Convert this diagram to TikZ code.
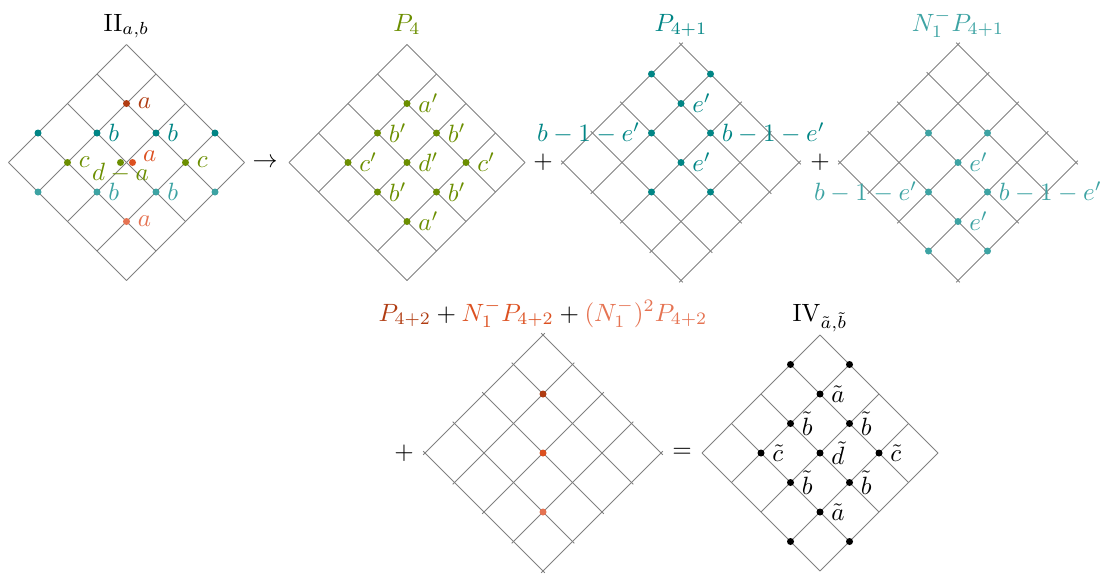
\documentclass[tikz,border=0pt]{standalone}
\usepackage{amsmath}
\definecolor{cbrown}{HTML}{B03C12}
\definecolor{cred}{HTML}{DC5020}
\definecolor{csalmon}{HTML}{E57352}
\definecolor{cteal}{HTML}{008585}
\definecolor{clteal}{HTML}{3DA3A3}
\definecolor{colive}{HTML}{6B8E00}
\def\hh{29.5}
\newcommand\drawlattice[1]{%
  \foreach \t in {0,...,4} {
    \draw[gridline,#1] ({(\t-4)*\hh},{-\t*\hh}) -- ({\t*\hh},{(4-\t)*\hh});
    \draw[gridline,#1] ({(\t-4)*\hh},{\t*\hh}) -- ({\t*\hh},{(\t-4)*\hh});
  }}
% dot only
\newcommand\pnt[4]{\node[dot, fill=#4] (#1) at ({#2*\hh},{#3*\hh}) {};}
% dot with label on the right
\newcommand\pntr[5]{\node[dot, fill=#4] (#1) at ({#2*\hh},{#3*\hh}) {};
  \node[right=1pt, text=#4] (#1l) at (#1.center) {#5};}
% dot with label on the left
\newcommand\pntl[5]{\node[dot, fill=#4] (#1) at ({#2*\hh},{#3*\hh}) {};
  \node[left=1pt, text=#4] (#1l) at (#1.center) {#5};}
\begin{document}
\begin{tikzpicture}[x=0.4pt,y=-0.4pt,
  gridline/.style={draw=black!50, line width=0.4pt},
  overshoot/.style={shorten <=-1pt, shorten >=-1pt},
  dot/.style={circle, inner sep=0pt, minimum size=2.8pt},
  ttl/.style={anchor=base, inner sep=0pt},
  op/.style={inner sep=0pt}]
\useasboundingbox (0,0) rectangle (1105,574);

% ---------- titles ----------
\node[ttl] (t1) at (126.5,31) {$\mathrm{II}_{a,b}$};
\node[ttl, text=colive] (t2) at (407,31) {$P_4$};
\node[ttl, text=cteal] (t3) at (681,31) {$P_{4+1}$};
\node[ttl, text=clteal] (t4) at (958,31) {$N_1^-P_{4+1}$};
\node[ttl] (t5) at (543,321) {$\textcolor{cbrown}{P_{4+2}}+\textcolor{cred}{N_1^-P_{4+2}}+\textcolor{csalmon}{(N_1^-)^2P_{4+2}}$};
\node[ttl] (t6) at (820,321) {$\mathrm{IV}_{\tilde{a},\tilde{b}}$};

% ---------- operators ----------
\node[op] (o1) at (265,162.5) {$\rightarrow$};
\node[op] (o2) at (543,162.5) {$+$};
\node[op] (o3) at (820,162.5) {$+$};
\node[op] (o4) at (404,453) {$+$};
\node[op] (o5) at (682,453) {$=$};

% ---------- II_{a,b} ----------
\begin{scope}[shift={(126.5,162.5)}]
  \drawlattice{}
  \pntr{Aa1}{0}{-2}{cbrown}{$a$}
  \pnt{Ab1}{-3}{-1}{cteal}
  \pntr{Ab2}{-1}{-1}{cteal}{$b$}
  \pntr{Ab3}{1}{-1}{cteal}{$b$}
  \pnt{Ab4}{3}{-1}{cteal}
  \pntr{Ac1}{-2}{0}{colive}{$c$}
  \pntr{Ac2}{2}{0}{colive}{$c$}
  \node[dot, fill=colive] (Ad) at (-6,0) {};
  \node[dot, fill=cred] (Ae) at (6,0) {};
  \node[anchor=west, inner sep=0pt, text=cred] (Ael) at (16,-6.5) {$a$};
  \node[anchor=base, inner sep=0pt, text=colive] (Adl) at (-6,17.5) {$d-a$};
  \pnt{Af1}{-3}{1}{clteal}
  \pntr{Af2}{-1}{1}{clteal}{$b$}
  \pntr{Af3}{1}{1}{clteal}{$b$}
  \pnt{Af4}{3}{1}{clteal}
  \pntr{Ag}{0}{2}{csalmon}{$a$}
\end{scope}

% ---------- P_4 ----------
\begin{scope}[shift={(407,162.5)}]
  \drawlattice{}
  \pntr{Ba1}{0}{-2}{colive}{$a'$}
  \pntr{Bb1}{-1}{-1}{colive}{$b'$}
  \pntr{Bb2}{1}{-1}{colive}{$b'$}
  \pntr{Bc1}{-2}{0}{colive}{$c'$}
  \pntr{Bd}{0}{0}{colive}{$d'$}
  \pntr{Bc2}{2}{0}{colive}{$c'$}
  \pntr{Bb3}{-1}{1}{colive}{$b'$}
  \pntr{Bb4}{1}{1}{colive}{$b'$}
  \pntr{Ba2}{0}{2}{colive}{$a'$}
\end{scope}

% ---------- P_{4+1} ----------
\begin{scope}[shift={(681,162.5)}]
  \drawlattice{overshoot}
  \pnt{Cp1}{-1}{-3}{cteal}
  \pnt{Cp2}{1}{-3}{cteal}
  \pntr{Ce1}{0}{-2}{cteal}{$e'$}
  \pntl{Cq1}{-1}{-1}{cteal}{$b-1-e'$}
  \pntr{Cq2}{1}{-1}{cteal}{$b-1-e'$}
  \pntr{Ce2}{0}{0}{cteal}{$e'$}
  \pnt{Cr1}{-1}{1}{cteal}
  \pnt{Cr2}{1}{1}{cteal}
\end{scope}

% ---------- N_1^- P_{4+1} ----------
\begin{scope}[shift={(958,162.5)}]
  \drawlattice{overshoot}
  \pnt{Dp1}{-1}{-1}{clteal}
  \pnt{Dp2}{1}{-1}{clteal}
  \pntr{De1}{0}{0}{clteal}{$e'$}
  \pntl{Dq1}{-1}{1}{clteal}{$b-1-e'$}
  \pntr{Dq2}{1}{1}{clteal}{$b-1-e'$}
  \pntr{De2}{0}{2}{clteal}{$e'$}
  \pnt{Dr1}{-1}{3}{clteal}
  \pnt{Dr2}{1}{3}{clteal}
\end{scope}

% ---------- P_{4+2} + ... ----------
\begin{scope}[shift={(543,453)}]
  \drawlattice{overshoot}
  \pnt{E1}{0}{-2}{cbrown}
  \pnt{E2}{0}{0}{cred}
  \pnt{E3}{0}{2}{csalmon}
\end{scope}

% ---------- IV ----------
\begin{scope}[shift={(820,453)}]
  \drawlattice{}
  \pnt{Fp1}{-1}{-3}{black}
  \pnt{Fp2}{1}{-3}{black}
  \pntr{Fa1}{0}{-2}{black}{$\tilde{a}$}
  \pntr{Fb1}{-1}{-1}{black}{$\tilde{b}$}
  \pntr{Fb2}{1}{-1}{black}{$\tilde{b}$}
  \pntr{Fc1}{-2}{0}{black}{$\tilde{c}$}
  \pntr{Fd}{0}{0}{black}{$\tilde{d}$}
  \pntr{Fc2}{2}{0}{black}{$\tilde{c}$}
  \pntr{Fb3}{-1}{1}{black}{$\tilde{b}$}
  \pntr{Fb4}{1}{1}{black}{$\tilde{b}$}
  \pntr{Fa2}{0}{2}{black}{$\tilde{a}$}
  \pnt{Fr1}{-1}{3}{black}
  \pnt{Fr2}{1}{3}{black}
\end{scope}
\end{tikzpicture}
\end{document}
